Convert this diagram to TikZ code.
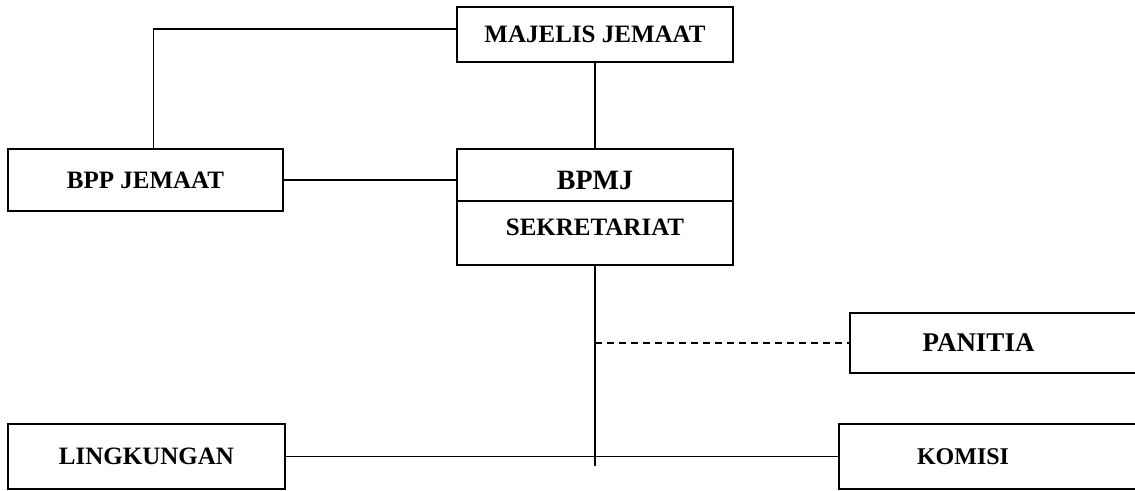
\documentclass[tikz,border=0pt]{standalone}
\usepackage{fontspec}
\setmainfont{Liberation Serif}

\begin{document}
\begin{tikzpicture}[x=1pt,y=-1pt,line width=1.5pt,
  box/.style={draw,rectangle,inner sep=0pt,font=\fontsize{25}{30}\selectfont\bfseries},
  wide/.style={box,anchor=west,minimum width=320pt},
  lbl/.style={inner sep=0pt,font=\fontsize{25}{30}\selectfont\bfseries}]
\useasboundingbox (0,0) rectangle (1135,490);
\clip (0,0) rectangle (1135,490);

\node[box,minimum width=276pt,minimum height=55pt] (maj) at (595,34.5) {MAJELIS JEMAAT};
\node[box,minimum width=276pt,minimum height=52pt,text height=28.5pt,font=\fontsize{28}{32}\selectfont\bfseries] (bpmj) at (595,175) {BPMJ};
\node[box,minimum width=276pt,minimum height=64pt,text depth=11pt] (sekr) at (595,233) {SEKRETARIAT};

\node[box,minimum width=275pt,minimum height=62pt] (bpp) at (145.5,180) {BPP JEMAAT};
\node[box,minimum width=277pt,minimum height=65pt] (ling) at (146.5,456.5) {LINGKUNGAN};

\node[wide,minimum height=60pt] (panitia) at (849,343) {};
\node[lbl,font=\fontsize{27}{32}\selectfont\bfseries] (panitia text) at (978.5,343) {PANITIA};
\node[wide,minimum height=65pt] (komisi) at (838,456.5) {};
\node[lbl,font=\fontsize{24}{28}\selectfont\bfseries] (komisi text) at (963,456.5) {KOMISI};

\coordinate (stem) at (595,466);

%lines
\draw ([yshift=5.5pt]maj.west) -| ([xshift=8pt]bpp.north);
\draw (maj) -- (bpmj);
\draw (bpp.east) -- (bpp.east -| bpmj.west);
\draw (sekr.south) -- (stem);
\draw (ling.east) -- (komisi.west);
\draw[dash pattern=on 7pt off 5pt] (sekr.south |- panitia.west) -- (panitia.west);

\end{tikzpicture}
\end{document}
